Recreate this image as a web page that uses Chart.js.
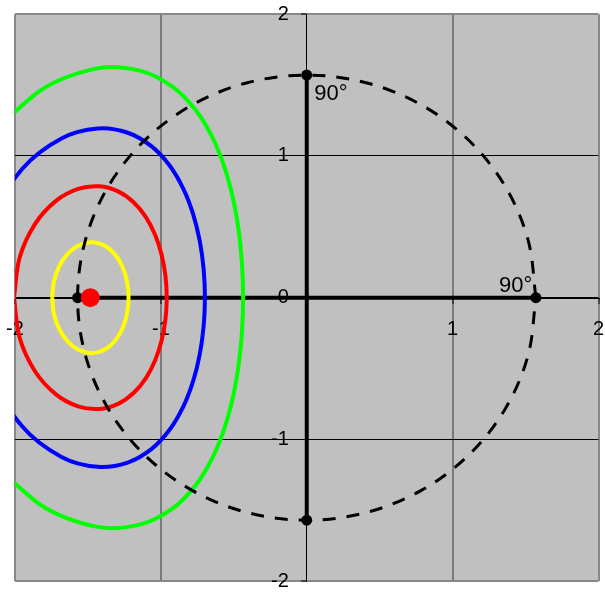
<!DOCTYPE html>
<html>
<head>
<meta charset="utf-8">
<script src="https://cdn.jsdelivr.net/npm/chart.js@4.4.1/dist/chart.umd.min.js"></script>
<style>
  html, body { margin: 0; padding: 0; background: #ffffff; }
  #wrap { width: 605px; height: 592px; }
</style>
</head>
<body>
<div id="wrap"><canvas id="chart" width="605" height="592"></canvas></div>
<script>
// Axis ticks and their labels (the x axis leaves 0 to the y axis)
const xTicks = [-2, -1, 0, 1, 2];
const xTickText = ['-2', '-1', '', '1', '2'];
const yTicks = [-2, -1, 0, 1, 2];
const yTickText = ['-2', '-1', '0', '1', '2'];

// Small circles of 15°, 30°, 45° and 60° around the pole (azimuthal equidistant, radians)
const yellowX = [-1.7453, -1.7324, -1.6957, -1.6406, -1.5744, -1.5040, -1.4355, -1.3732, -1.3199, -1.2774, -1.2466, -1.2280, -1.2217,
                 -1.2280, -1.2466, -1.2774, -1.3199, -1.3732, -1.4355, -1.5040, -1.5744, -1.6406, -1.6957, -1.7324, -1.7453];
const yellowY = [0, 0.1179, 0.2235, 0.3069, 0.3625, 0.3884, 0.3861, 0.3589, 0.3111, 0.2470, 0.1711, 0.0875, 0,
                 -0.0875, -0.1711, -0.2470, -0.3111, -0.3589, -0.3861, -0.3884, -0.3625, -0.3069, -0.2235, -0.1179, 0];

const redX = [-2.0071, -1.9685, -1.8642, -1.7213, -1.5675, -1.4217, -1.2937, -1.1873, -1.1027, -1.0390, -0.9946, -0.9685, -0.9599,
              -0.9685, -0.9946, -1.0390, -1.1027, -1.1873, -1.2937, -1.4217, -1.5675, -1.7213, -1.8642, -1.9685, -2.0071];
const redY = [0, 0.2815, 0.5176, 0.6811, 0.7674, 0.7856, 0.7498, 0.6734, 0.5678, 0.4415, 0.3014, 0.1527, 0,
              -0.1527, -0.3014, -0.4415, -0.5678, -0.6734, -0.7498, -0.7856, -0.7674, -0.6811, -0.5176, -0.2815, 0];

const blueX = [-2.2689, -2.1764, -1.9495, -1.6814, -1.4335, -1.2277, -1.0651, -0.9402, -0.8466, -0.7789, -0.7332, -0.7068, -0.6981,
               -0.7068, -0.7332, -0.7789, -0.8466, -0.9402, -1.0651, -1.2277, -1.4335, -1.6814, -1.9495, -2.1764, -2.2689];
const blueY = [0, 0.5214, 0.9096, 1.1240, 1.1940, 1.1640, 1.0692, 0.9328, 0.7696, 0.5893, 0.3982, 0.2006, 0,
               -0.2006, -0.3982, -0.5893, -0.7696, -0.9328, -1.0692, -1.1640, -1.1940, -1.1240, -0.9096, -0.5214, 0];

const greenX = [-2.5307, -2.3096, -1.8643, -1.4542, -1.1447, -0.9216, -0.7614, -0.6459, -0.5628, -0.5044, -0.4657, -0.4436, -0.4363,
                -0.4436, -0.4657, -0.5044, -0.5628, -0.6459, -0.7614, -0.9216, -1.1447, -1.4542, -1.8643, -2.3096, -2.5307];
const greenY = [0, 0.9067, 1.4327, 1.6147, 1.6021, 1.4894, 1.3239, 1.1290, 0.9170, 0.6946, 0.4660, 0.2338, 0,
                -0.2338, -0.4660, -0.6946, -0.9170, -1.1290, -1.3239, -1.4894, -1.6021, -1.6147, -1.4327, -0.9067, 0];

// The 90° horizon
const horizonX = [1.5708, 1.5173, 1.3603, 1.1107, 0.7854, 0.4066, 0, -0.4066, -0.7854, -1.1107, -1.3603, -1.5173, -1.5708,
                  -1.5173, -1.3603, -1.1107, -0.7854, -0.4066, 0, 0.4066, 0.7854, 1.1107, 1.3603, 1.5173, 1.5708];
const horizonY = [0, 0.4066, 0.7854, 1.1107, 1.3603, 1.5173, 1.5708, 1.5173, 1.3603, 1.1107, 0.7854, 0.4066, 0,
                  -0.4066, -0.7854, -1.1107, -1.3603, -1.5173, -1.5708, -1.5173, -1.3603, -1.1107, -0.7854, -0.4066, 0];

// Quadrant points on the horizon
const markX = [0, 1.5708, 0, -1.5708];
const markY = [1.5708, 0, -1.5708, 0];

// The pole (85° from the centre)
const poleX = [-1.4835];
const poleY = [0];

// Radial axes out to the horizon
const axisVX = [0, 0];
const axisVY = [-1.5708, 1.5708];
const axisHX = [-1.5708, 1.5708];
const axisHY = [0, 0];

// Angle notes
const noteText = ['90°', '90°'];
const noteX = [0, 1.5708];
const noteY = [1.5708, 0];

const pts = (xs, ys) => xs.map((x, i) => ({ x, y: ys[i] }));
const FONT = '"Liberation Sans", Arial, Helvetica, sans-serif';
Chart.defaults.font.family = FONT;
Chart.defaults.font.size = 20;
Chart.defaults.color = '#000';

const curve = (data, color, order) => ({
  data, order, showLine: true, borderColor: color, borderWidth: 4,
  pointRadius: 0, tension: 0.34, capBezierPoints: false, fill: false, clip: 0
});

const plotBackground = {
  id: 'plotBackground',
  beforeDraw(chart) {
    const { ctx, chartArea: a } = chart;
    ctx.save();
    ctx.fillStyle = '#c0c0c0';
    ctx.fillRect(a.left, a.top, a.right - a.left, a.bottom - a.top);
    ctx.restore();
  }
};

const angleNotes = {
  id: 'angleNotes',
  afterDatasetsDraw(chart) {
    const { ctx, scales: { x, y } } = chart;
    // first note hangs right/below its point, second sits left/above
    const place = [{ align: 'left', dx: 7.5, dy: 25 }, { align: 'right', dx: -3.5, dy: -5.7 }];
    ctx.save();
    ctx.font = '22px ' + FONT;
    ctx.fillStyle = '#000';
    ctx.textBaseline = 'alphabetic';
    noteText.forEach((t, i) => {
      ctx.textAlign = place[i].align;
      ctx.fillText(t, x.getPixelForValue(noteX[i]) + place[i].dx, y.getPixelForValue(noteY[i]) + place[i].dy);
    });
    ctx.restore();
  }
};

const noPad = s => { s.paddingLeft = 0; s.paddingRight = 0; s.paddingTop = 0; s.paddingBottom = 0; };
const edge = v => v === -2 || v === 2;

new Chart(document.getElementById('chart'), {
  type: 'scatter',
  data: {
    datasets: [
      { data: pts(poleX, poleY), order: 0, pointRadius: 9.5, pointBackgroundColor: '#ff0000', pointBorderWidth: 0 },
      { data: pts(markX, markY), order: 1, pointRadius: 5.5, pointBackgroundColor: '#000000', pointBorderWidth: 0 },
      { data: pts(horizonX, horizonY), order: 2, showLine: true, borderColor: '#000000', borderWidth: 3,
        borderDash: [13, 11], pointRadius: 0, tension: 0.34, capBezierPoints: false, fill: false },
      curve(pts(yellowX, yellowY), '#ffff00', 3),
      curve(pts(redX, redY), '#ff0000', 4),
      curve(pts(blueX, blueY), '#0000ff', 5),
      curve(pts(greenX, greenY), '#00ff00', 6),
      { data: pts(axisVX, axisVY), order: 7, showLine: true, borderColor: '#000000', borderWidth: 4, pointRadius: 0 },
      { data: pts(axisHX, axisHY), order: 8, showLine: true, borderColor: '#000000', borderWidth: 4, pointRadius: 0 }
    ]
  },
  options: {
    responsive: false,
    animation: false,
    devicePixelRatio: 1,
    events: [],
    layout: { autoPadding: false, padding: { left: 15, right: 6.5, top: 14.3, bottom: 11 } },
    plugins: { legend: { display: false }, tooltip: { enabled: false }, title: { display: false } },
    scales: {
      x: {
        type: 'linear', min: -2, max: 2,
        position: 'center',
        afterBuildTicks: s => { s.ticks = xTicks.map(v => ({ value: v })); },
        afterFit: noPad,
        grid: {
          color: c => (c.tick && c.tick.value === 0) ? '#000000' : (c.tick && edge(c.tick.value) ? '#888888' : '#7a7a7a'),
          lineWidth: c => (c.tick && c.tick.value === 0) ? 1 : 2,
          tickColor: '#000000', tickWidth: 1, tickLength: 5, drawTicks: true
        },
        border: { display: true, color: '#000000', width: 1 },
        ticks: { color: '#000', padding: 15, autoSkip: false, maxRotation: 0,
                 callback: v => xTickText[xTicks.indexOf(v)] }
      },
      y: {
        type: 'linear', min: -2, max: 2,
        position: 'center',
        afterBuildTicks: s => { s.ticks = yTicks.map(v => ({ value: v })); },
        afterFit: noPad,
        grid: {
          color: c => (c.tick && edge(c.tick.value)) ? '#888888' : '#000000',
          lineWidth: c => (c.tick && edge(c.tick.value)) ? 2 : 1,
          tickColor: '#000000', tickWidth: 1, tickLength: 5, drawTicks: true
        },
        border: { display: true, color: '#000000', width: 1 },
        ticks: { color: '#000', padding: 13, autoSkip: false,
                 callback: v => yTickText[yTicks.indexOf(v)] }
      }
    }
  },
  plugins: [plotBackground, angleNotes]
});
</script>
</body>
</html>
